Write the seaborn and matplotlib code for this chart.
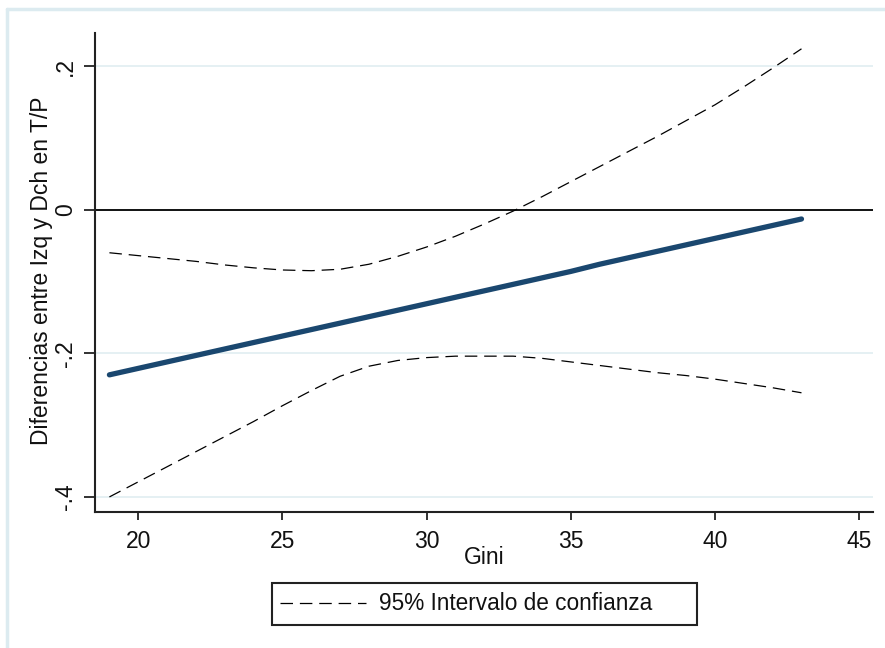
import numpy as np
import pandas as pd
import seaborn as sns
import matplotlib.pyplot as plt
from matplotlib.lines import Line2D
from matplotlib.patches import Rectangle

# ---- data ----
gini = [19, 20, 21, 22, 23, 24, 25, 26, 27, 28, 29, 30, 31,
        32, 33, 34, 35, 36, 37, 38, 39, 40, 41, 42, 43]
effect = [-0.230, -0.221, -0.212, -0.203, -0.194, -0.185, -0.176, -0.167,
          -0.158, -0.149, -0.140, -0.131, -0.122, -0.113, -0.104, -0.095,
          -0.086, -0.076, -0.067, -0.058, -0.049, -0.040, -0.031, -0.022,
          -0.013]
upper = [-0.060, -0.064, -0.068, -0.072, -0.077, -0.081, -0.084, -0.085,
         -0.083, -0.076, -0.065, -0.052, -0.037, -0.020, -0.002, 0.018,
         0.039, 0.060, 0.081, 0.102, 0.124, 0.146, 0.171, 0.197, 0.224]
lower = [-0.400, -0.379, -0.358, -0.337, -0.316, -0.295, -0.273, -0.252,
         -0.232, -0.218, -0.210, -0.206, -0.204, -0.204, -0.204, -0.207,
         -0.212, -0.217, -0.222, -0.227, -0.231, -0.236, -0.242, -0.248,
         -0.255]
x_ticks = [20, 25, 30, 35, 40, 45]
y_ticks = [-0.4, -0.2, 0.0, 0.2]
y_tick_labels = ["-.4", "-.2", "0", ".2"]
x_label = "Gini"
y_label = "Diferencias entre Izq y Dch en T/P"
legend_label = "95% Intervalo de confianza"

df = pd.DataFrame({"gini": gini, "effect": effect, "upper": upper, "lower": lower})

sns.set_theme(style="white")
plt.rcParams['font.family'] = ['Liberation Sans', 'DejaVu Sans']

FS = 16.5
W, H = 885, 648
fig = plt.figure(figsize=(W / 100, H / 100), dpi=100)
fig.patch.set_facecolor("white")
ax = fig.add_axes([95 / W, 1 - 512 / H, (873 - 95) / W, (512 - 33) / H])

dash = (0, (10, 5.5))
sns.lineplot(data=df, x="gini", y="upper", ax=ax, color="black", lw=0.9,
             linestyle=dash, estimator=None, sort=False)
sns.lineplot(data=df, x="gini", y="lower", ax=ax, color="black", lw=0.9,
             linestyle=dash, estimator=None, sort=False)
sns.lineplot(data=df, x="gini", y="effect", ax=ax, color="#1a476f", lw=3.8,
             estimator=None, sort=False)
ax.axhline(0, color="black", lw=1.3, zorder=1.5)

ax.set_xlim(18.5, 45.48)
ax.set_ylim(-0.421, 0.246)
ax.set_xticks(x_ticks)
ax.set_yticks(y_ticks)
ax.set_yticklabels(y_tick_labels, rotation=90, va="center")
ax.yaxis.grid(True, color="#e3eff2", lw=1.3)
ax.xaxis.grid(False)
ax.set_axisbelow(True)

for s in ["top", "right"]:
    ax.spines[s].set_visible(False)
for s in ["left", "bottom"]:
    ax.spines[s].set_color("#222222")
    ax.spines[s].set_linewidth(1.5)

ax.tick_params(axis="both", which="major", bottom=True, left=True,
               direction="out", width=1.3, color="#222222",
               labelsize=FS, labelcolor="#111111")
ax.tick_params(axis="x", length=6, pad=7)
ax.tick_params(axis="y", length=8, pad=5)

ax.set_xlabel(x_label, fontsize=FS, color="#111111")
ax.set_ylabel(y_label, fontsize=FS, color="#111111")
ax.xaxis.set_label_coords(0.5, -0.072)
ax.yaxis.set_label_coords(-0.0546, 0.503)

# legend: box drawn as a rectangle, entries via legend without frame
box_x0, box_x1, box_y0, box_y1 = 271.5, 696.5, 583, 625
fig.add_artist(Rectangle((box_x0 / W, 1 - box_y1 / H),
                         (box_x1 - box_x0) / W, (box_y1 - box_y0) / H,
                         transform=fig.transFigure, facecolor="white",
                         edgecolor="#222222", lw=1.5, zorder=2))
handle = Line2D([], [], color="black", lw=0.9, linestyle=dash)
leg = fig.legend([handle], [legend_label], loc="center left",
                 bbox_to_anchor=(280 / W, 1 - 604 / H), frameon=False,
                 fontsize=16.3, handlelength=3.8, borderpad=0,
                 handletextpad=0.58, borderaxespad=0)
leg.set_zorder(3)
for t in leg.get_texts():
    t.set_color("#111111")

# outer light-blue frame (Stata graph region)
fig.add_artist(Line2D([7 / W, 1], [1 - 8.5 / H, 1 - 8.5 / H],
                      transform=fig.transFigure, color="#dcebf0", lw=2.5))
fig.add_artist(Line2D([7 / W, 7 / W], [0, 1 - 8.5 / H],
                      transform=fig.transFigure, color="#dcebf0", lw=2.5))

fig.savefig("out.png", dpi=100)
